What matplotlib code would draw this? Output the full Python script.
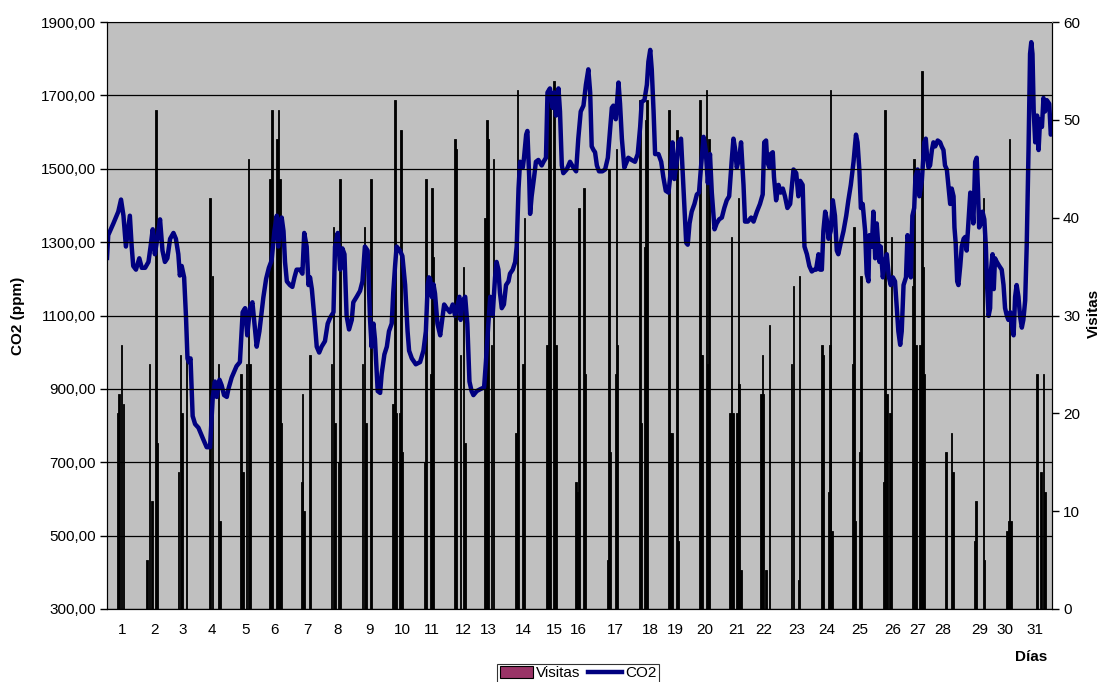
import matplotlib
matplotlib.use("Agg")
import matplotlib.pyplot as plt
from matplotlib.patches import Patch
from matplotlib.lines import Line2D

plt.rcParams['font.family'] = ['Liberation Sans', 'DejaVu Sans']

# CO2 (ppm) - position en jours sur l'axe et valeur
co2_dia = [0.50, 0.54, 0.71, 0.87, 0.96, 1.04, 1.12, 1.25, 1.31, 1.36, 1.45, 1.56, 1.64, 1.75, 1.86, 1.93,
           2.00, 2.07, 2.15, 2.24, 2.32, 2.40, 2.48, 2.57, 2.68, 2.76, 2.84, 2.89, 2.95, 3.03, 3.09, 3.14,
           3.18, 3.24, 3.31, 3.39, 3.50, 3.66, 3.77, 3.88, 3.97, 4.04, 4.10, 4.19, 4.26, 4.34, 4.43, 4.48,
           4.59, 4.75, 4.86, 4.95, 5.03, 5.10, 5.19, 5.27, 5.36, 5.41, 5.50, 5.63, 5.72, 5.81, 5.90, 5.99,
           6.07, 6.12, 6.23, 6.29, 6.34, 6.40, 6.50, 6.58, 6.65, 6.72, 6.83, 6.91, 6.97, 7.05, 7.11, 7.16,
           7.22, 7.32, 7.38, 7.46, 7.54, 7.65, 7.74, 7.82, 7.93, 7.98, 8.07, 8.15, 8.22, 8.29, 8.36, 8.44,
           8.53, 8.58, 8.69, 8.80, 8.88, 8.96, 9.05, 9.13, 9.18, 9.24, 9.29, 9.38, 9.46, 9.51, 9.60, 9.68,
           9.75, 9.84, 9.89, 9.95, 10.00, 10.11, 10.19, 10.28, 10.36, 10.41, 10.50, 10.63, 10.77, 10.88,
           10.96, 11.02, 11.06, 11.10, 11.16, 11.21, 11.26, 11.34, 11.43, 11.51, 11.56, 11.64, 11.75, 11.84,
           11.92, 12.06, 12.10, 12.17, 12.25, 12.32, 12.39, 12.46, 12.52, 12.63, 12.74, 12.87, 12.93, 13.01,
           13.07, 13.15, 13.23, 13.28, 13.34, 13.39, 13.45, 13.52, 13.59, 13.67, 13.72, 13.81, 13.89, 13.94,
           14.00, 14.05, 14.14, 14.18, 14.25, 14.29, 14.35, 14.38, 14.43, 14.51, 14.57, 14.65, 14.76, 14.82,
           14.90, 14.95, 15.03, 15.12, 15.17, 15.23, 15.31, 15.36, 15.42, 15.47, 15.58, 15.69, 15.80, 15.89,
           15.96, 16.04, 16.13, 16.21, 16.29, 16.35, 16.40, 16.46, 16.51, 16.57, 16.64, 16.75, 16.84, 16.93,
           17.00, 17.06, 17.11, 17.19, 17.28, 17.33, 17.39, 17.47, 17.55, 17.60, 17.71, 17.82, 17.91, 17.99,
           18.04, 18.13, 18.21, 18.26, 18.32, 18.37, 18.43, 18.48, 18.59, 18.68, 18.75, 18.83, 18.92, 19.00,
           19.05, 19.11, 19.19, 19.25, 19.33, 19.38, 19.44, 19.50, 19.55, 19.61, 19.68, 19.77, 19.85, 19.92,
           19.99, 20.07, 20.14, 20.21, 20.28, 20.34, 20.43, 20.50, 20.58, 20.67, 20.75, 20.83, 20.91, 20.99,
           21.05, 21.10, 21.16, 21.24, 21.30, 21.38, 21.43, 21.52, 21.63, 21.71, 21.82, 21.92, 22.01, 22.06,
           22.12, 22.16, 22.23, 22.27, 22.34, 22.38, 22.45, 22.53, 22.60, 22.67, 22.74, 22.82, 22.91, 22.96,
           23.02, 23.11, 23.18, 23.24, 23.32, 23.38, 23.46, 23.54, 23.62, 23.70, 23.76, 23.84, 23.89, 23.95,
           24.00, 24.06, 24.11, 24.17, 24.24, 24.31, 24.38, 24.44, 24.49, 24.57, 24.66, 24.75, 24.82, 24.90,
           24.99, 25.07, 25.12, 25.18, 25.23, 25.29, 25.37, 25.42, 25.48, 25.51, 25.59, 25.64, 25.70, 25.75,
           25.84, 25.88, 25.95, 26.02, 26.08, 26.15, 26.21, 26.28, 26.35, 26.41, 26.46, 26.52, 26.57, 26.63,
           26.71, 26.76, 26.82, 26.87, 26.92, 26.98, 27.02, 27.09, 27.15, 27.23, 27.31, 27.36, 27.40, 27.45,
           27.50, 27.56, 27.61, 27.67, 27.75, 27.83, 27.88, 27.94, 27.99, 28.05, 28.10, 28.16, 28.21, 28.27,
           28.30, 28.34, 28.39, 28.43, 28.49, 28.54, 28.60, 28.65, 28.70, 28.74, 28.78, 28.82, 28.87, 28.92,
           28.98, 29.03, 29.07, 29.11, 29.17, 29.22, 29.28, 29.33, 29.37, 29.42, 29.47, 29.50, 29.55, 29.59,
           29.63, 29.69, 29.77, 29.85, 29.91, 29.96, 30.02, 30.07, 30.13, 30.18, 30.24, 30.29, 30.34, 30.40,
           30.45, 30.51, 30.56, 30.62, 30.67, 30.73, 30.78, 30.82, 30.86, 30.90, 30.95, 31.01, 31.06, 31.11,
           31.17, 31.22, 31.27, 31.33, 31.41, 31.46, 31.52]
co2_ppm = [1257, 1319, 1351, 1383, 1416, 1372, 1288, 1372, 1288, 1235, 1225, 1256, 1230, 1230, 1246, 1288,
           1335, 1267, 1309, 1362, 1277, 1246, 1256, 1309, 1325, 1309, 1267, 1209, 1235, 1204, 1099, 983,
           973, 983, 826, 804, 794, 762, 741, 741, 878, 920, 878, 925, 910, 883, 878, 899,
           931, 962, 973, 1109, 1120, 1046, 1120, 1136, 1057, 1015, 1057, 1150, 1200, 1230, 1250, 1330,
           1372, 1288, 1367, 1330, 1246, 1193, 1183, 1178, 1204, 1225, 1225, 1214, 1325, 1288, 1183, 1204,
           1172, 1078, 1015, 999, 1015, 1030, 1078, 1094, 1109, 1288, 1325, 1225, 1283, 1267, 1099, 1062,
           1088, 1136, 1151, 1167, 1193, 1288, 1277, 1088, 1015, 1078, 1036, 894, 889, 941, 994, 1015,
           1057, 1078, 1162, 1235, 1288, 1277, 1262, 1183, 1057, 1004, 983, 967, 973, 1004,
           1057, 1183, 1204, 1200, 1150, 1185, 1160, 1078, 1046, 1099, 1130, 1120, 1109, 1130,
           1099, 1151, 1088, 1141, 1151, 1078, 920, 894, 883, 894, 899, 904, 973, 1078,
           1151, 1099, 1204, 1246, 1225, 1162, 1120, 1130, 1183, 1193, 1214, 1225, 1246, 1288,
           1446, 1519, 1503, 1530, 1593, 1603, 1477, 1377, 1425, 1477, 1519, 1524, 1509, 1519,
           1530, 1708, 1719, 1666, 1708, 1645, 1719, 1656, 1509, 1488, 1498, 1519, 1503, 1493,
           1582, 1656, 1672, 1729, 1771, 1708, 1561, 1551, 1545, 1509, 1493, 1493, 1498, 1530,
           1603, 1666, 1672, 1635, 1735, 1677, 1582, 1503, 1519, 1530, 1524, 1519, 1540, 1614,
           1682, 1687, 1729, 1792, 1824, 1771, 1656, 1540, 1540, 1519, 1477, 1440, 1435, 1498,
           1572, 1472, 1519, 1572, 1582, 1498, 1393, 1298, 1293, 1351, 1383, 1404, 1430, 1435,
           1509, 1587, 1551, 1461, 1540, 1435, 1335, 1351, 1362, 1367, 1393, 1414, 1425, 1519,
           1582, 1556, 1503, 1530, 1572, 1456, 1356, 1356, 1367, 1356, 1383, 1404, 1430, 1572,
           1577, 1519, 1503, 1540, 1545, 1477, 1414, 1456, 1435, 1446, 1425, 1393, 1404, 1446,
           1498, 1488, 1425, 1467, 1456, 1288, 1267, 1235, 1220, 1225, 1225, 1267, 1225, 1225,
           1330, 1383, 1362, 1309, 1330, 1414, 1372, 1277, 1267, 1298, 1330, 1372, 1414, 1456,
           1519, 1593, 1572, 1498, 1393, 1404, 1330, 1214, 1193, 1319, 1288, 1383, 1256, 1351,
           1246, 1288, 1204, 1246, 1267, 1204, 1183, 1204, 1193, 1120, 1057, 1020, 1057, 1183,
           1204, 1319, 1288, 1204, 1372, 1393, 1477, 1498, 1425, 1467, 1572, 1582, 1535, 1503,
           1509, 1551, 1572, 1561, 1577, 1572, 1561, 1551, 1509, 1498, 1456, 1404, 1446, 1425,
           1340, 1298, 1193, 1183, 1235, 1288, 1309, 1314, 1277, 1330, 1383, 1435, 1414, 1351,
           1519, 1530, 1446, 1340, 1351, 1383, 1362, 1288, 1183, 1099, 1120, 1225, 1267, 1172,
           1256, 1246, 1235, 1225, 1183, 1120, 1099, 1088, 1109, 1078, 1046, 1151, 1183, 1151,
           1099, 1067, 1088, 1141, 1288, 1551, 1813, 1845, 1813, 1656, 1572, 1645, 1551, 1635,
           1614, 1693, 1656, 1687, 1677, 1593, 1603]

# Visitas (barras)
visitas_dia = [0.84, 0.90, 0.97, 1.04,
               1.82, 1.89, 1.97, 2.11, 2.15,
               2.85, 2.91, 2.96, 3.11,
               3.88, 3.96, 4.15, 4.21,
               4.90, 4.96, 5.08, 5.14, 5.19,
               5.85, 5.92, 6.07, 6.12, 6.18, 6.23,
               6.89, 6.92, 6.97, 7.16,
               7.87, 7.93, 7.98, 8.09, 8.14,
               8.88, 8.94, 8.99, 9.16,
               9.89, 9.95, 10.00, 10.11, 10.15, 10.19,
               10.91, 10.96, 11.12, 11.16, 11.20,
               11.92, 11.95, 12.10, 12.19, 12.25,
               12.90, 12.96, 13.01, 13.12, 13.18,
               13.92, 13.96, 13.99, 14.14, 14.19,
               14.93, 14.98, 15.03, 15.17, 15.23,
               15.89, 15.93, 15.99, 16.15, 16.20,
               16.93, 16.96, 17.00, 17.19, 17.22, 17.25,
               17.99, 18.02, 18.15, 18.17, 18.21,
               18.94, 18.97, 19.03, 19.19, 19.25,
               19.96, 19.99, 20.03, 20.17, 20.21, 20.25,
               20.94, 20.99, 21.03, 21.16, 21.21, 21.24, 21.30,
               21.96, 22.00, 22.03, 22.11, 22.23,
               22.96, 23.02, 23.18, 23.21,
               23.95, 24.00, 24.17, 24.22, 24.24, 24.29,
               24.96, 25.01, 25.05, 25.18, 25.23,
               25.97, 26.03, 26.08, 26.19, 26.24,
               26.93, 26.98, 27.04, 27.17, 27.23, 27.28, 27.30,
               28.02, 28.21, 28.26,
               28.98, 29.01, 29.25, 29.28,
               30.02, 30.07, 30.10, 30.15,
               31.01, 31.14, 31.22, 31.27]
visitas_n = [20, 22, 27, 21,
             5, 25, 11, 51, 17,
             14, 26, 20, 26,
             42, 34, 25, 9,
             24, 14, 25, 46, 25,
             44, 51, 48, 51, 44, 19,
             13, 22, 10, 26,
             25, 39, 19, 15, 44,
             25, 39, 19, 44,
             21, 52, 20, 20, 49, 16,
             15, 44, 24, 43, 36,
             48, 47, 26, 35, 17,
             40, 50, 48, 27, 46,
             18, 53, 30, 25, 40,
             27, 53, 52, 54, 27,
             13, 12, 41, 43, 24,
             5, 45, 16, 24, 47, 27,
             52, 19, 37, 50, 52,
             51, 18, 18, 49, 7,
             52, 26, 26, 53, 25, 48,
             20, 38, 20, 20, 42, 23, 4,
             22, 26, 22, 4, 29,
             25, 33, 3, 34,
             27, 26, 12, 27, 53, 8,
             25, 39, 9, 16, 34,
             13, 51, 22, 20, 38,
             33, 46, 27, 27, 55, 35, 24,
             16, 18, 14,
             7, 11, 42, 5,
             8, 9, 48, 9,
             24, 14, 24, 12]

# etiquetas de los dias
dias_pos = [0.98, 2.07, 2.98, 3.94, 5.06, 6.01, 7.06, 8.08, 9.10, 10.18, 11.16, 12.18, 13.00, 14.15,
            15.17, 15.95, 17.17, 18.32, 19.14, 20.12, 21.17, 22.06, 23.14, 24.12, 25.20, 26.29, 27.11,
            27.93, 29.14, 29.96, 30.95]
dias_lab = [str(d) for d in range(1, 32)]

W, H = 1103, 682
fs = 11
fig = plt.figure(figsize=(W / 100, H / 100), dpi=100)
ax2 = fig.add_axes([107 / W, 73 / H, 945 / W, 587 / H])
ax = ax2.twinx()  # CO2 encima de las barras
ax.yaxis.tick_left()
ax.yaxis.set_label_position("left")
ax2.yaxis.tick_right()
ax2.yaxis.set_label_position("right")

ax2.set_facecolor('#C0C0C0')
ax.patch.set_visible(False)

ax2.bar(visitas_dia, visitas_n, width=0.05, color='black', edgecolor='black', linewidth=0.6)
ax2.set_ylim(0, 60)
ax2.set_yticks(range(0, 61, 10))
ax2.tick_params(axis='y', direction='out', length=5, width=1, labelsize=fs, pad=3)

ax.plot(co2_dia, co2_ppm, color='#000080', linewidth=3.2, solid_joinstyle='round')
ax.set_ylim(300, 1900)
ax.set_yticks(range(300, 1901, 200))
ax.set_yticklabels([('%.2f' % v).replace('.', ',') for v in range(300, 1901, 200)])
ax.tick_params(axis='y', direction='out', length=5, width=1, labelsize=fs, pad=3)
ax.grid(axis='y', color='black', linewidth=0.9)
ax.set_axisbelow(False)

ax.set_xlim(0.5, 31.5)
ax2.set_xlim(0.5, 31.5)
ax2.set_xticks(dias_pos)
ax2.set_xticklabels(dias_lab)
ax2.tick_params(axis='x', length=0, labelsize=fs, pad=10)
ax.tick_params(axis='x', length=0, labelbottom=False)

for a in (ax, ax2):
    a.spines['top'].set_color('#808080')
    a.spines['left'].set_color('black')
    a.spines['right'].set_color('black')
    a.spines['bottom'].set_color('black')

fig.text(18 / W, 1 - 316 / H, 'CO2 (ppm)', rotation=90, ha='center', va='center',
         fontsize=fs, fontweight='bold')
fig.text(1094 / W, 1 - 313 / H, 'Visitas', rotation=90, ha='center', va='center',
         fontsize=fs, fontweight='bold')
fig.text(1031 / W, 1 - 657 / H, 'Días', ha='center', va='center', fontsize=fs, fontweight='bold')

handles = [Patch(facecolor='#993366', edgecolor='black', linewidth=0.8),
           Line2D([0], [0], color='#000080', linewidth=3.2)]
leg = fig.legend(handles, ['Visitas', 'CO2'], loc='upper center', bbox_to_anchor=(578 / W, 1 - 664 / H),
                 ncol=2, fontsize=fs, frameon=True, fancybox=False, edgecolor='black',
                 handlelength=2.2, handleheight=0.8, handletextpad=0.2, columnspacing=0.5,
                 borderpad=0.15, borderaxespad=0)
leg.get_frame().set_linewidth(0.8)

fig.savefig('out.png', dpi=100, facecolor='white')
